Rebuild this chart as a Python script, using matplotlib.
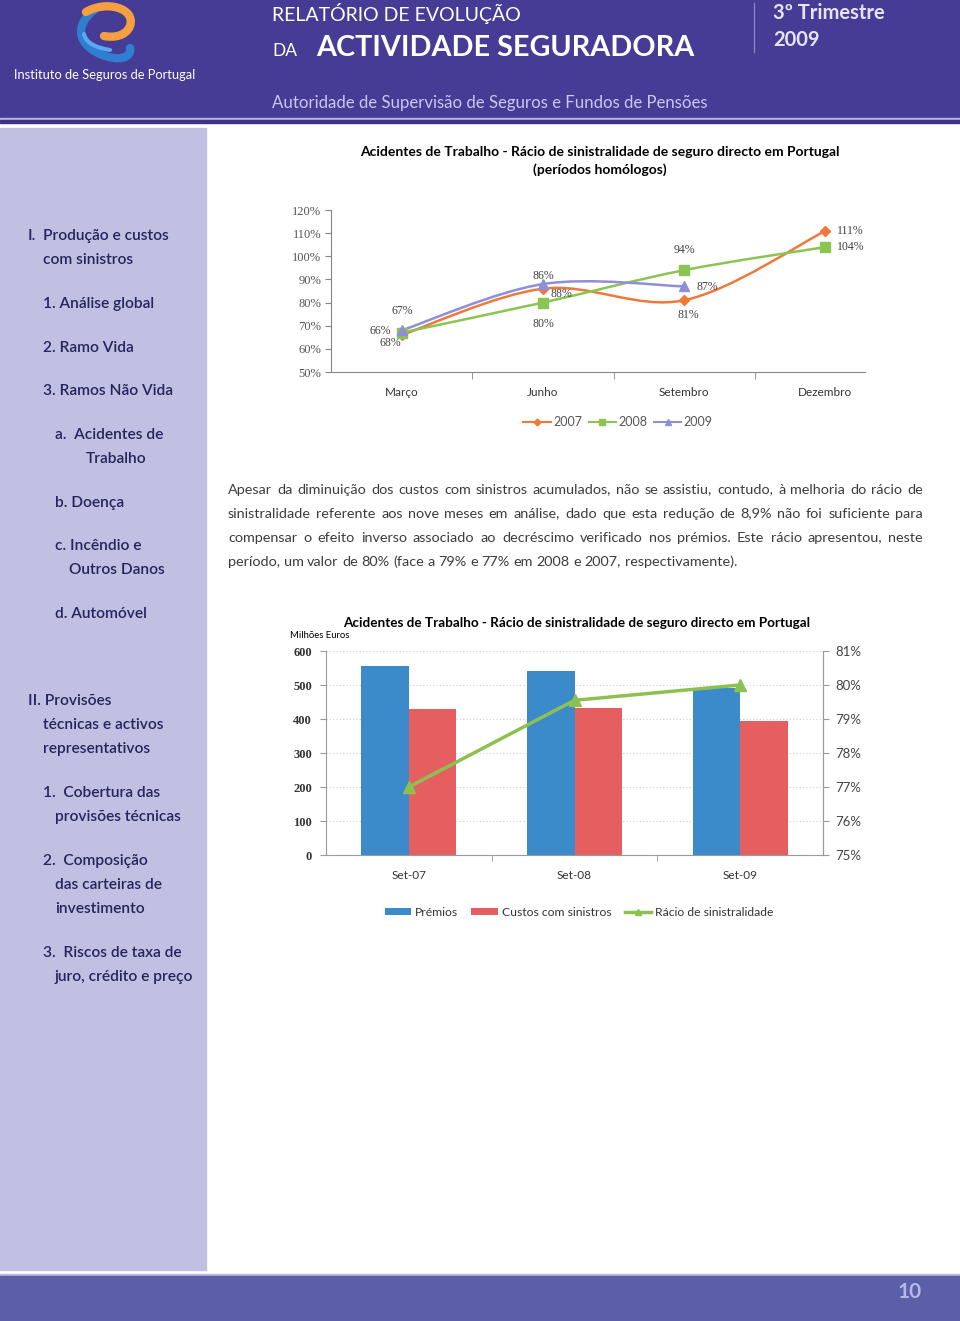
import math
import matplotlib
matplotlib.use("Agg")
import matplotlib.pyplot as plt
from matplotlib.patches import Rectangle, PathPatch
from matplotlib.path import Path
from matplotlib.lines import Line2D

# ---------------- dados ----------------
meses = ['Março', 'Junho', 'Setembro', 'Dezembro']
racio_2007 = [66, 86, 81, 111]
racio_2008 = [67, 80, 94, 104]
racio_2009 = [68, 88, 87]
anos = ['2007', '2008', '2009']

periodos = ['Set-07', 'Set-08', 'Set-09']
premios = [555, 541, 490]
custos = [428, 431, 393]
racio = [77.0, 79.55, 80.0]

titulo = 'Acidentes de Trabalho - Rácio de sinistralidade de seguro directo em Portugal'
texto = ["Apesar da diminuição dos custos com sinistros acumulados, não se assistiu, contudo, à melhoria do rácio de",
         "sinistralidade referente aos nove meses em análise, dado que esta redução de 8,9% não foi suficiente para",
         "compensar o efeito inverso associado ao decréscimo verificado nos prémios. Este rácio apresentou, neste",
         "período, um valor de 80% (face a 79% e 77% em 2008 e 2007, respectivamente)."]

menu = [('I.', 28, 236), ('Produção e custos', 43, 236), ('com sinistros', 43, 260),
        ('1. Análise global', 43, 304), ('2. Ramo Vida', 43, 348), ('3. Ramos Não Vida', 43, 391),
        ('a.  Acidentes de', 55, 435), ('Trabalho', 86, 459), ('b. Doença', 55, 503),
        ('c. Incêndio e', 55, 546), ('Outros Danos', 69, 570), ('d. Automóvel', 55, 614),
        ('II. Provisões', 28, 701), ('técnicas e activos', 43, 725), ('representativos', 43, 749),
        ('1.  Cobertura das', 43, 793), ('provisões técnicas', 55, 817),
        ('2.  Composição', 43, 861), ('das carteiras de', 55, 885), ('investimento', 55, 909),
        ('3.  Riscos de taxa de', 43, 953), ('juro, crédito e preço', 55, 977)]

W, H = 960, 1321
SANS = ['Lato', 'DejaVu Sans']
SERIF = ['Liberation Serif', 'DejaVu Serif']

fig = plt.figure(figsize=(W / 100, H / 100), dpi=100)
bg = fig.add_axes([0, 0, 1, 1], zorder=0)
bg.set_xlim(0, W)
bg.set_ylim(H, 0)
bg.axis('off')

# ---------------- moldura da página ----------------
bg.add_patch(Rectangle((0, 0), W, 117, color='#463b95'))
bg.add_patch(Rectangle((0, 117.5), W, 1.5, color='#b9b6e0'))
bg.add_patch(Rectangle((0, 120), W, 2.5, color='#3c3288'))
bg.add_patch(Rectangle((0, 128), 206, 1142, color='#c1c0e2'))
bg.add_patch(Rectangle((0, 1274), W, 1.5, color='#b8b9dc'))
bg.add_patch(Rectangle((0, 1275.5), W, 46, color='#5b5fa8'))
bg.plot([754, 754], [3, 52], color='#8a84c4', lw=1)

# logotipo (fita em S)
azul = Path([(94, 10), (74, 26), (78, 44), (100, 54), (118, 62), (132, 58), (130, 48)],
            [Path.MOVETO, Path.CURVE4, Path.CURVE4, Path.CURVE4, Path.CURVE4, Path.CURVE4, Path.CURVE4])
bg.add_patch(PathPatch(azul, fill=False, ec='#2f7fd0', lw=6, capstyle='round'))
azul2 = Path([(84, 34), (86, 44), (98, 48), (110, 50)],
             [Path.MOVETO, Path.CURVE4, Path.CURVE4, Path.CURVE4])
bg.add_patch(PathPatch(azul2, fill=False, ec='#5aa8f0', lw=3, capstyle='round'))
laranja = Path([(86, 12), (106, 0), (136, 8), (130, 26), (126, 36), (114, 38), (104, 36)],
               [Path.MOVETO, Path.CURVE4, Path.CURVE4, Path.CURVE4, Path.CURVE4, Path.CURVE4, Path.CURVE4])
bg.add_patch(PathPatch(laranja, fill=False, ec='#f5a040', lw=6, capstyle='round'))

bg.text(14, 75, 'Instituto de Seguros de Portugal', color='white', fontsize=9.3,
        family=SANS, va='center')
bg.text(272, 13, 'RELATÓRIO DE EVOLUÇÃO', color='white', fontsize=14, family=SANS, va='center')
bg.text(272, 51, 'DA', color='white', fontsize=12.5, family=SANS, va='center')
bg.text(316, 48, 'ACTIVIDADE SEGURADORA', color='white', fontsize=20.7, family=SANS,
        weight='bold', va='center')
bg.text(773, 13, '3º Trimestre', color='#e6e4fb', fontsize=14.5, family=SANS, weight='bold', va='center')
bg.text(773, 40, '2009', color='#e6e4fb', fontsize=14.5, family=SANS, weight='bold', va='center')
bg.text(272, 103, 'Autoridade de Supervisão de Seguros e Fundos de Pensões', color='#c9c8ef',
        fontsize=12.1, family=SANS, va='center')
bg.text(910, 1292, '10', color='#b5b7e8', fontsize=15, family=SANS, weight='bold',
        va='center', ha='center')

for txt, x, y in menu:
    bg.text(x, y, txt, color='#25245c', fontsize=11.2, family=SANS, weight='semibold', va='center')

# parágrafo justificado (uma palavra de cada vez, linha de base alinhada ao pixel)
renderer = fig.canvas.get_renderer()
x0, x1 = 228, 923
for i, linha in enumerate(texto):
    y = 494 + 24 * i
    palavras = linha.split()
    objs = [bg.text(0, y, p, color='#3c3c3c', fontsize=10.4, family=SANS, va='baseline')
            for p in palavras]
    prop = objs[0].get_fontproperties()
    larg = [o.get_window_extent(renderer).width for o in objs]
    if i == len(texto) - 1:
        esp = renderer.get_text_width_height_descent('a b', prop, ismath=False)[0] - \
            renderer.get_text_width_height_descent('ab', prop, ismath=False)[0]
    else:
        esp = (x1 - x0 - sum(larg)) / (len(palavras) - 1)
    x = x0
    for o, w in zip(objs, larg):
        _, h, d = renderer.get_text_width_height_descent(o.get_text(), prop, ismath=False)
        o.set_position((x, y + math.trunc(h) - math.trunc(h - d) - d))
        x += w + esp


# ---------------- gráfico 1: linhas suavizadas ----------------
def suave(xs, ys):
    pts = list(zip(xs, ys))
    verts = [pts[0]]
    codes = [Path.MOVETO]
    n = len(pts)
    for k in range(n - 1):
        p0 = pts[k - 1] if k > 0 else pts[k]
        p1, p2 = pts[k], pts[k + 1]
        p3 = pts[k + 2] if k + 2 < n else pts[k + 1]
        c1 = (p1[0] + (p2[0] - p0[0]) / 6, p1[1] + (p2[1] - p0[1]) / 6)
        c2 = (p2[0] - (p3[0] - p1[0]) / 6, p2[1] - (p3[1] - p1[1]) / 6)
        verts += [c1, c2, p2]
        codes += [Path.CURVE4] * 3
    return Path(verts, codes)


ax1 = fig.add_axes([331 / W, 1 - 372 / H, (865 - 331) / W, (372 - 210) / H], zorder=2)
ax1.patch.set_alpha(0)
series = [(racio_2007, '#f0783c', 'D', 5, [(-21, 4), (0, 13), (4, -15), (25, 0)]),
          (racio_2008, '#8cc453', 's', 6.5, [(1, 22), (0, -21), (0, 20), (25, 0)]),
          (racio_2009, '#8f8fd8', '^', 6.5, [(-11, -13), (18, -10), (23, -1)])]
handles = []
for vals, cor, mk, ms, offs in series:
    xs = list(range(len(vals)))
    ax1.add_patch(PathPatch(suave(xs, vals), fill=False, ec=cor, lw=1.8, zorder=3))
    ax1.plot(xs, vals, ls='none', marker=mk, ms=ms, color=cor, zorder=4)
    for xv, v, (dx, dy) in zip(xs, vals, offs):
        ax1.annotate(f'{v}%', (xv, v), xytext=(dx, dy), textcoords='offset pixels',
                     ha='center', va='center', fontsize=8.5, family=SERIF, color='#404040')
    handles.append(Line2D([], [], color=cor, marker=mk, ms=ms - 1.5, lw=1.5))

ax1.set_xlim(-0.5, 3.28)
ax1.set_ylim(50, 120)
ax1.set_yticks(range(50, 121, 10))
ax1.set_yticklabels([f'{v}%' for v in range(50, 121, 10)], family=SERIF, fontsize=9, color='#555555')
ax1.set_xticks(range(4))
ax1.set_xticklabels(meses, family=SANS, fontsize=8.5, color='#333333')
ax1.set_xticks([0.5, 1.5, 2.5], minor=True)
ax1.tick_params(axis='x', which='major', length=0, pad=11)
ax1.tick_params(axis='x', which='minor', length=5, color='#868686', direction='out')
ax1.tick_params(axis='y', length=4, color='#868686', pad=3)
for s in ['top', 'right']:
    ax1.spines[s].set_visible(False)
for s in ['left', 'bottom']:
    ax1.spines[s].set_color('#868686')
fig.text(600 / W, 1 - 152 / H, titulo, ha='center', va='center', fontsize=10, family=SANS, weight='bold')
fig.text(600 / W, 1 - 170 / H, '(períodos homólogos)', ha='center', va='center', fontsize=10,
         family=SANS, weight='bold')
fig.legend(handles, anos, loc='center', bbox_to_anchor=(618 / W, 1 - 422 / H), ncol=3,
           frameon=False, handlelength=2.2, columnspacing=0.5, handletextpad=0.2,
           prop={'family': SANS, 'size': 9}, labelcolor='#555555')

# ---------------- gráfico 2: barras + rácio ----------------
ax2 = fig.add_axes([326 / W, 1 - 855 / H, (823 - 326) / W, (855 - 651) / H], zorder=2)
ax2.patch.set_alpha(0)
larg_b = 0.287
pos = list(range(len(periodos)))
b1 = ax2.bar([p - larg_b / 2 for p in pos], premios, width=larg_b, color='#3b8bcb', zorder=2)
b2 = ax2.bar([p + larg_b / 2 for p in pos], custos, width=larg_b, color='#e55f61', zorder=2)
ax2.set_xlim(-0.5, 2.5)
ax2.set_ylim(0, 600)
ax2.set_yticks(range(0, 601, 100))
ax2.set_yticklabels([str(v) for v in range(0, 601, 100)], family=SERIF, fontsize=9,
                    color='#333333', weight='bold')
ax2.yaxis.grid(True, ls=(0, (1, 2)), color='#cfcfcf', lw=0.8, zorder=0)
ax2.set_xticks(pos)
ax2.set_xticklabels(periodos, family=SANS, fontsize=8.5, color='#333333')
ax2.set_xticks([0.5, 1.5], minor=True)
ax2.tick_params(axis='x', which='major', length=0, pad=11)
ax2.tick_params(axis='x', which='minor', length=4, color='#9a9a9a')
ax2.tick_params(axis='y', length=4, color='#9a9a9a', pad=6)
ax2.spines['top'].set_visible(False)
for s in ['left', 'bottom', 'right']:
    ax2.spines[s].set_color('#9a9a9a')

ax3 = ax2.twinx()
ax3.set_zorder(3)
ax3.patch.set_alpha(0)
ax3.plot(pos, racio, color='#8cc152', lw=2.5, marker='^', ms=8, zorder=4)
ax3.set_ylim(75, 81)
ax3.set_yticks(range(75, 82))
ax3.set_yticklabels([f'{v}%' for v in range(75, 82)], family=SANS, fontsize=9.5, color='#444444')
ax3.tick_params(axis='y', length=4, color='#9a9a9a', pad=5)
ax3.spines['top'].set_visible(False)
ax3.spines['right'].set_color('#9a9a9a')
ax3.spines['left'].set_visible(False)
ax3.spines['bottom'].set_visible(False)

fig.text(577 / W, 1 - 623 / H, titulo, ha='center', va='center', fontsize=9.7, family=SANS, weight='bold')
fig.text(290 / W, 1 - 635 / H, 'Milhões Euros', ha='left', va='center', fontsize=6.8, family=SANS)
fig.legend([b1, b2, Line2D([], [], color='#8cc152', lw=2.5, marker='^', ms=5)],
           ['Prémios', 'Custos com sinistros', 'Rácio de sinistralidade'],
           loc='center', bbox_to_anchor=(579 / W, 1 - 912 / H), ncol=3, frameon=False,
           handlelength=2.2, handleheight=0.5, columnspacing=1.1, handletextpad=0.3,
           prop={'family': SANS, 'size': 8.7}, labelcolor='#333333')

fig.savefig('out.png', dpi=100)
